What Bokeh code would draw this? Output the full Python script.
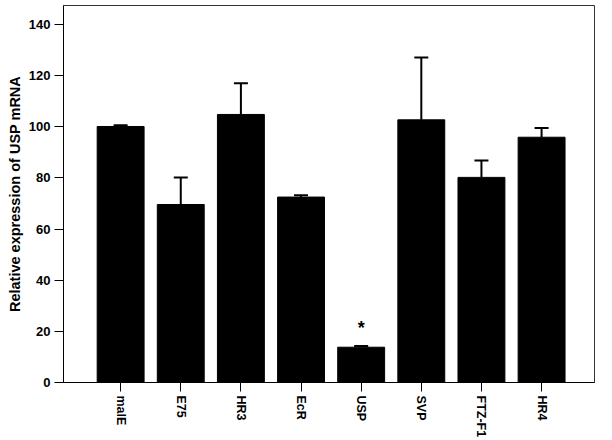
import math
from bokeh.plotting import figure
from bokeh.models import ColumnDataSource, FixedTicker, Whisker, TeeHead, Range1d
from bokeh.core.properties import value
from bokeh.embed import file_html
from bokeh.resources import INLINE

categories = ["malE", "E75", "HR3", "EcR", "USP", "SVP", "FTZ-F1", "HR4"]
means = [100.1, 69.6, 104.8, 72.5, 13.8, 102.7, 80.2, 95.9]
upper = [100.6, 80.2, 117.0, 73.2, 14.3, 127.1, 86.8, 99.5]
y_ticks = [0, 20, 40, 60, 80, 100, 120, 140]
star_label = "*"
star_y = 21.3

xs = list(range(len(categories)))
src = ColumnDataSource(dict(x=xs, top=means, upper=upper, cat=categories))

p = figure(width=612, height=440, output_backend="svg", toolbar_location=None,
           x_range=Range1d(-0.95, len(categories) - 1 + 0.88),
           y_range=Range1d(0, 147.4),
           min_border_left=63, min_border_right=18, min_border_top=5, min_border_bottom=58)

p.vbar(x="x", top="top", width=0.78, source=src, fill_color="black", line_color="black")

w = Whisker(base="x", lower="top", upper="upper", source=src, dimension="height",
            line_width=2, line_color="black",
            upper_head=TeeHead(size=14, line_width=2, line_color="black"),
            lower_head=None)
p.add_layout(w)

p.text(x=[categories.index("USP")], y=[star_y], text=[star_label], text_align="center",
       text_baseline="middle", text_font=value("Liberation Sans"), text_font_size="18px",
       text_font_style="bold", text_color="black")

p.xgrid.visible = False
p.ygrid.visible = False
p.outline_line_color = "#333333"
p.outline_line_width = 1

p.yaxis.ticker = FixedTicker(ticks=y_ticks)
p.yaxis.minor_tick_line_color = None
p.yaxis.major_tick_out = 9
p.yaxis.major_tick_in = 0
p.yaxis.major_label_standoff = 4
p.yaxis.major_label_text_font = "Liberation Sans"
p.yaxis.major_label_text_font_style = "bold"
p.yaxis.major_label_text_font_size = "13px"
p.yaxis.major_label_text_color = "black"
p.yaxis.axis_label = "Relative expression of USP mRNA"
p.yaxis.axis_label_text_font = "Liberation Sans"
p.yaxis.axis_label_text_font_style = "bold"
p.yaxis.axis_label_text_font_size = "14.5px"
p.yaxis.axis_label_text_color = "black"
p.yaxis.axis_label_standoff = 3
p.yaxis.axis_line_color = "black"

p.xaxis.ticker = FixedTicker(ticks=xs)
p.xaxis.major_label_overrides = {i: c for i, c in enumerate(categories)}
p.xaxis.minor_tick_line_color = None
p.xaxis.major_tick_out = 9
p.xaxis.major_tick_in = 0
p.xaxis.major_label_orientation = -math.pi / 2
p.xaxis.major_label_standoff = 4
p.xaxis.major_label_text_font = "Liberation Sans"
p.xaxis.major_label_text_font_style = "bold"
p.xaxis.major_label_text_font_size = "12.5px"
p.xaxis.major_label_text_color = "black"
p.xaxis.axis_line_color = "black"

open("out.html", "w").write(file_html(p, INLINE))
